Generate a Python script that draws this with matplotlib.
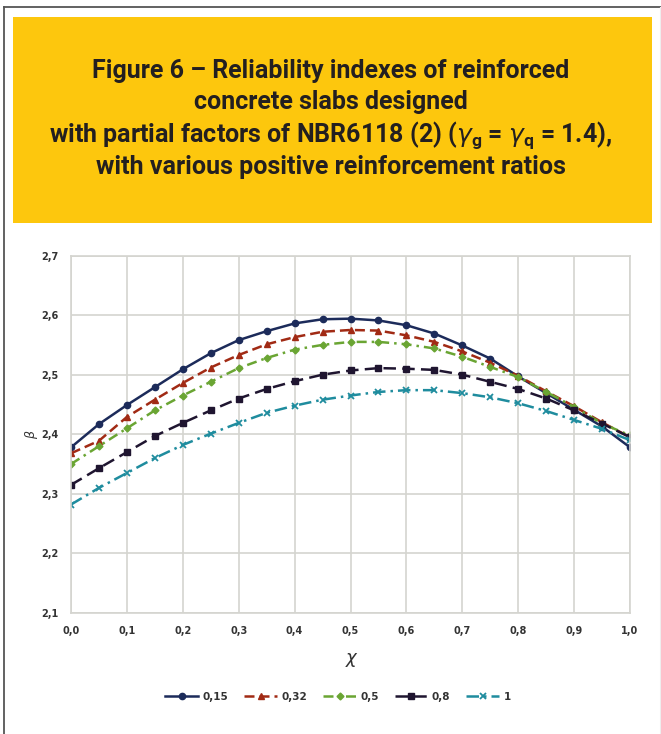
import numpy as np
import matplotlib.pyplot as plt
from matplotlib.patches import Rectangle
from matplotlib.lines import Line2D

# data
chi = [0.0, 0.05, 0.1, 0.15, 0.2, 0.25, 0.3, 0.35, 0.4, 0.45, 0.5,
       0.55, 0.6, 0.65, 0.7, 0.75, 0.8, 0.85, 0.9, 0.95, 1.0]
beta_015 = [2.378, 2.417, 2.449, 2.479, 2.509, 2.536, 2.558, 2.573, 2.586, 2.593, 2.594,
            2.591, 2.583, 2.569, 2.549, 2.527, 2.497, 2.469, 2.441, 2.413, 2.378]
beta_032 = [2.368, 2.389, 2.429, 2.458, 2.486, 2.512, 2.533, 2.551, 2.563, 2.572, 2.575,
            2.574, 2.566, 2.555, 2.539, 2.520, 2.498, 2.472, 2.447, 2.420, 2.395]
beta_05 = [2.350, 2.380, 2.410, 2.440, 2.465, 2.488, 2.511, 2.528, 2.542, 2.550, 2.555,
           2.555, 2.551, 2.544, 2.530, 2.513, 2.496, 2.471, 2.446, 2.418, 2.398]
beta_08 = [2.315, 2.343, 2.370, 2.397, 2.419, 2.440, 2.460, 2.476, 2.489, 2.500, 2.507,
           2.511, 2.510, 2.508, 2.500, 2.488, 2.476, 2.460, 2.440, 2.418, 2.395]
beta_1 = [2.282, 2.310, 2.335, 2.360, 2.382, 2.401, 2.419, 2.436, 2.448, 2.458, 2.465,
          2.471, 2.474, 2.474, 2.469, 2.462, 2.452, 2.439, 2.424, 2.409, 2.390]
labels = ['0,15', '0,32', '0,5', '0,8', '1']

xticks = [0.0, 0.1, 0.2, 0.3, 0.4, 0.5, 0.6, 0.7, 0.8, 0.9, 1.0]
yticks = [2.1, 2.2, 2.3, 2.4, 2.5, 2.6, 2.7]

W, H = 661, 734
fig = plt.figure(figsize=(W / 100, H / 100), dpi=100)

# page frame
fig.add_artist(Line2D([3.5 / W, 1], [1 - 6.5 / H] * 2, color='#555555', lw=1.3))
fig.add_artist(Line2D([3.5 / W] * 2, [0, 1 - 6.5 / H], color='#555555', lw=1.3))
fig.add_artist(Line2D([659.5 / W] * 2, [0, 1 - 6.5 / H], color='#eeeeee', lw=0.8))

# yellow title box
fig.add_artist(Rectangle((12.5 / W, 1 - 222.5 / H), 639.5 / W, 206 / H,
                         transform=fig.transFigure, color='#fdc70d', lw=0))
tfont = dict(family='Roboto', fontweight='bold',
             fontsize=18, color='#231f20', ha='center', va='center')
fig.text(331 / W, 1 - 71 / H, 'Figure 6 – Reliability indexes of reinforced', **tfont)
fig.text(331 / W, 1 - 102 / H, 'concrete slabs designed', **tfont)
fig.text(331 / W, 1 - 135 / H,
         r'with partial factors of NBR6118 (2) ($\gamma_\mathregular{g}$ = $\gamma_\mathregular{q}$ = 1.4),',
         **tfont)
fig.text(331 / W, 1 - 167 / H, 'with various positive reinforcement ratios', **tfont)

ax = fig.add_axes([71 / W, 1 - 613 / H, 559 / W, 357.5 / H])

styles = [
    dict(color='#1c2b5a', marker='o', ls='-', ms=4.5),
    dict(color='#a12a14', marker='^', ls=(0, (4, 2)), ms=5),
    dict(color='#6aa533', marker='D', ls=(0, (4, 2, 1, 2)), ms=3.5),
    dict(color='#1f1530', marker='s', ls=(0, (5, 2.5)), ms=4),
    dict(color='#1f8c9e', marker='x', ls=(0, (5, 2, 1, 2)), ms=5, mew=1.3),
]
for b, lab, st in zip([beta_015, beta_032, beta_05, beta_08, beta_1], labels, styles):
    ax.plot(chi, b, lw=1.8, label=lab, **st)

ax.set_xlim(0, 1)
ax.set_ylim(2.1, 2.7)
ax.set_xticks(xticks)
ax.set_yticks(yticks)
ax.set_xticklabels([f'{v:.1f}'.replace('.', ',') for v in xticks])
ax.set_yticklabels([f'{v:.1f}'.replace('.', ',') for v in yticks])
ax.grid(True, color='#d4d4cf', lw=1.2)
ax.set_axisbelow(True)
for s in ax.spines.values():
    s.set_color('#d4d4cf')
    s.set_linewidth(1.2)
ax.tick_params(length=0, labelsize=7, labelcolor='#333333', pad=9)
for t in ax.get_xticklabels() + ax.get_yticklabels():
    t.set_fontweight('bold')

fig.text(352 / W, 1 - 660 / H, r'$\chi$', fontsize=13, ha='center', va='center', color='#333333')
fig.text(31 / W, 1 - 434 / H, r'$\beta$', fontsize=9, ha='center', va='center',
         rotation=90, color='#333333')

fig.legend(loc='center', bbox_to_anchor=(338 / W, 1 - 697 / H), ncol=5, frameon=False,
           prop=dict(size=7.5, weight='bold'), handlelength=3.2, columnspacing=1.5,
           handletextpad=0.4, labelcolor='#333333')

fig.savefig('out.png', dpi=100)
